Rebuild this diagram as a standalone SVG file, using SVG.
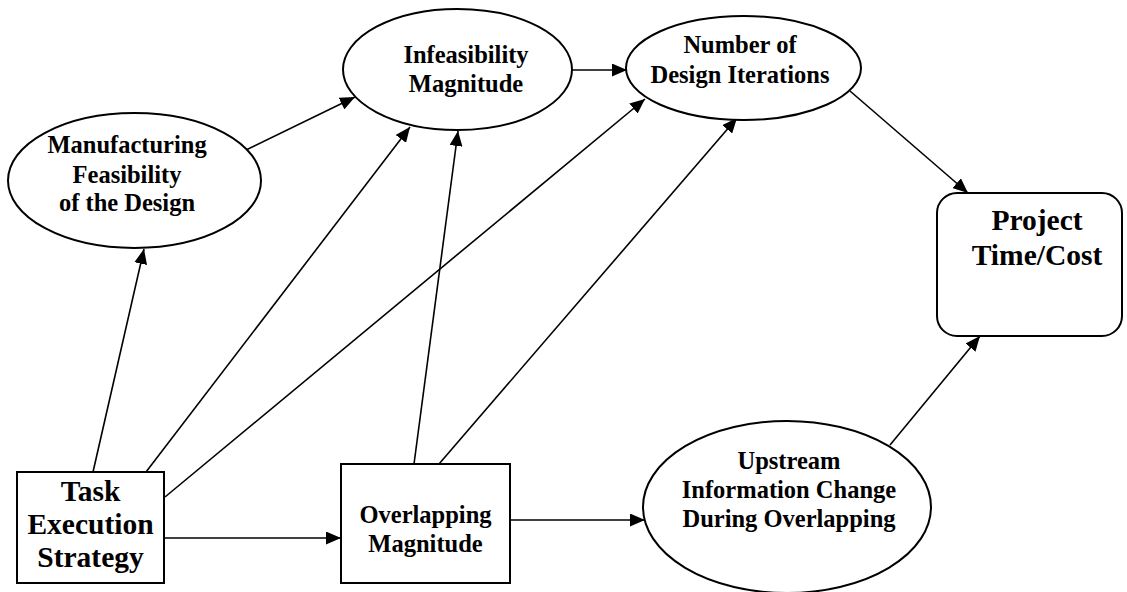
<svg xmlns="http://www.w3.org/2000/svg" width="1127" height="592" viewBox="0 0 1127 592">
  <style>
    .shape { fill: #fff; stroke: #000; stroke-width: 2; }
    .edge { fill: none; stroke: #000; stroke-width: 1.6; marker-end: url(#arrow); }
    text { font-family: "Liberation Serif", "Times New Roman", serif; font-weight: bold; fill: #000; text-anchor: middle; }
    .t24 { font-size: 24.5px; }
    .t29 { font-size: 29.5px; }
  </style>
  <defs>
    <marker id="arrow" markerUnits="userSpaceOnUse" markerWidth="15" markerHeight="13" refX="15" refY="6.5" orient="auto">
      <path d="M0,0 L15,6.5 L0,13 z" fill="#000"/>
    </marker>
  </defs>

  <rect width="1127" height="592" fill="#fff"/>

  <!-- connectors -->
  <g id="connectors">
    <line class="edge" x1="93" y1="472" x2="144" y2="249"/>
    <line class="edge" x1="146" y1="472" x2="410" y2="127"/>
    <line class="edge" x1="165" y1="497" x2="645" y2="99"/>
    <line class="edge" x1="165" y1="538" x2="341" y2="538"/>
    <line class="edge" x1="242" y1="152" x2="355" y2="97"/>
    <line class="edge" x1="414" y1="464" x2="458" y2="131"/>
    <line class="edge" x1="439" y1="464" x2="737" y2="118"/>
    <line class="edge" x1="572" y1="70" x2="627" y2="70"/>
    <line class="edge" x1="510" y1="520" x2="645" y2="520"/>
    <line class="edge" x1="850" y1="91" x2="968" y2="193"/>
    <line class="edge" x1="890" y1="445" x2="980" y2="336"/>
  </g>

  <!-- nodes -->
  <g id="manufacturing-feasibility">
    <ellipse class="shape" cx="134.5" cy="180.5" rx="126.5" ry="67.5"/>
    <text class="t24" x="127" y="153">Manufacturing</text>
    <text class="t24" x="127" y="183">Feasibility</text>
    <text class="t24" x="127" y="211">of the Design</text>
  </g>

  <g id="infeasibility-magnitude">
    <ellipse class="shape" cx="457.5" cy="69.5" rx="114.5" ry="60.5"/>
    <text class="t24" x="466" y="63">Infeasibility</text>
    <text class="t24" x="466" y="92">Magnitude</text>
  </g>

  <g id="design-iterations">
    <ellipse class="shape" cx="743.5" cy="68" rx="117.5" ry="52"/>
    <text class="t24" x="740" y="53">Number of</text>
    <text class="t24" x="740" y="83">Design Iterations</text>
  </g>

  <g id="project-time-cost">
    <rect class="shape" x="937" y="193" width="185" height="143" rx="20" ry="20"/>
    <text class="t29" x="1037" y="230">Project</text>
    <text class="t29" x="1037" y="265">Time/Cost</text>
  </g>

  <g id="task-execution-strategy">
    <rect class="shape" x="17" y="472" width="147" height="111"/>
    <text class="t29" x="90.5" y="501">Task</text>
    <text class="t29" x="90.5" y="534">Execution</text>
    <text class="t29" x="90.5" y="567">Strategy</text>
  </g>

  <g id="overlapping-magnitude">
    <rect class="shape" x="341" y="464" width="169" height="119"/>
    <text class="t24" x="425.5" y="523">Overlapping</text>
    <text class="t24" x="425.5" y="552">Magnitude</text>
  </g>

  <g id="upstream-information-change">
    <ellipse class="shape" cx="787" cy="507" rx="144" ry="86"/>
    <text class="t24" x="789" y="469">Upstream</text>
    <text class="t24" x="789" y="498">Information Change</text>
    <text class="t24" x="789" y="527">During Overlapping</text>
  </g>
</svg>
